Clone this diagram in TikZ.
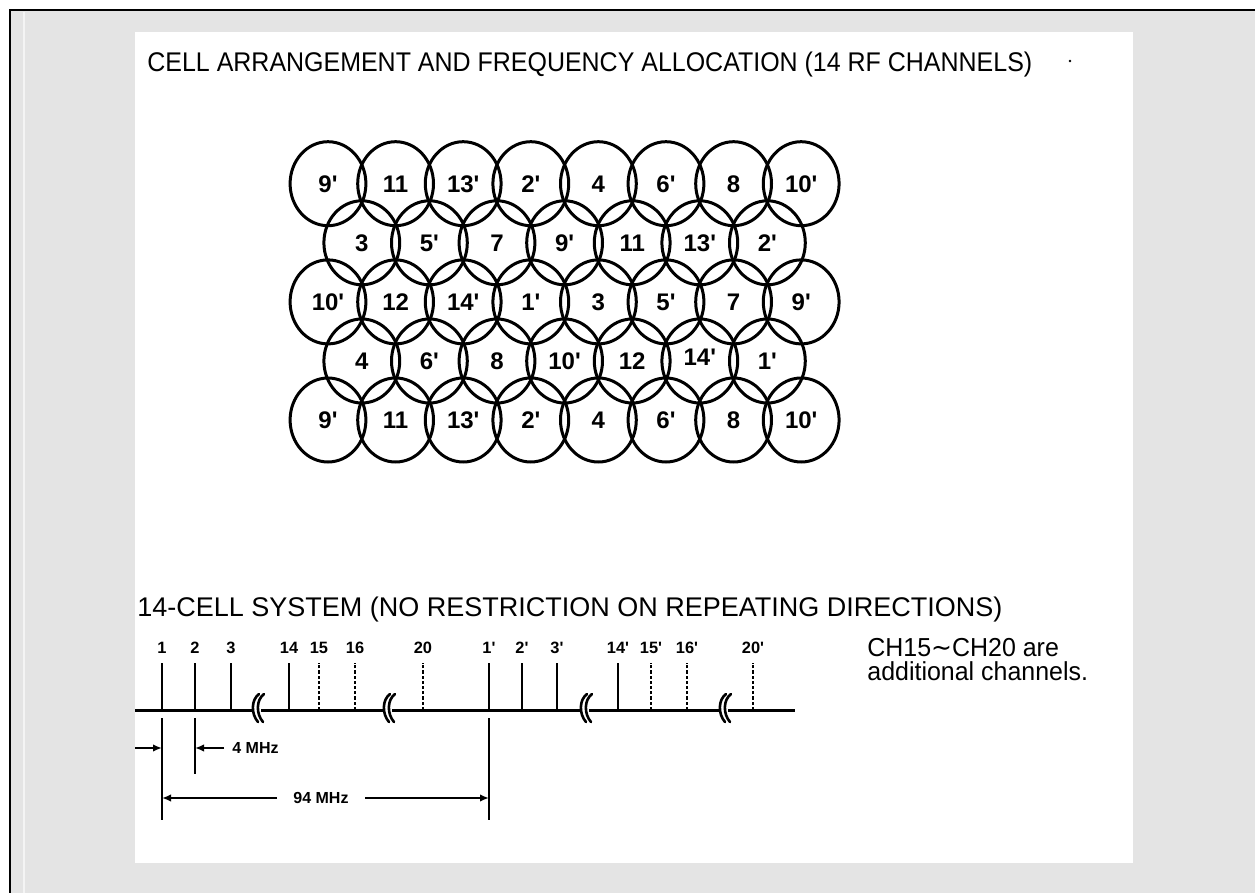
\documentclass[tikz,border=0pt]{standalone}
\usepackage{graphicx}
\usepackage{fontspec}
\setmainfont{Liberation Sans}
\newfontfamily\dejavu{DejaVu Sans}
\usetikzlibrary{shapes.geometric,arrows.meta}
\definecolor{bggray}{HTML}{E4E4E4}
\newcommand\p{\textquotesingle}
\begin{document}
\begin{tikzpicture}[x=0.5pt,y=-0.5pt,
  cell/.style={ellipse,draw,line width=1.5pt,minimum width=37.9pt,minimum height=42pt,inner sep=0pt,
    text height=8.6pt,text depth=0pt,font=\fontsize{12}{14}\selectfont\bfseries},
  titletext/.style={anchor=base west,inner sep=0pt,font=\fontsize{13.5}{16}\selectfont},
  sidetext/.style={anchor=base west,inner sep=0pt,font=\fontsize{13}{15}\selectfont},
  tlab/.style={inner sep=0pt,text height=6pt,text depth=0pt,font=\fontsize{8.2}{10}\selectfont\bfseries},
  dimlab/.style={inner sep=0pt,font=\fontsize{8}{9}\selectfont\bfseries},
  axisline/.style={line width=1.5pt},
  solidtick/.style={line width=1.3pt},
  dashtick/.style={line width=1.3pt,dash pattern=on 1.6pt off 1pt},
  extline/.style={line width=1pt},
  dimline/.style={line width=1pt,-{Latex[length=4.5pt,width=3.8pt]}},
  brk/.style={line width=1.3pt,line cap=round},
]
\useasboundingbox (0,0) rectangle (1255,893);
% background frame
\fill[bggray] (10,10) rectangle (1255,893);
\draw[white!60!bggray,line width=0.6pt] (24,12) -- (24,893);
\draw[line width=1.3pt] (10,893) -- (10,10) -- (1255,10);
\fill[white] (135,32) rectangle (1133,863);

% titles
\node[titletext] (title1) at (147,72) {\scalebox{0.925}[1]{CELL ARRANGEMENT AND FREQUENCY ALLOCATION (14 RF CHANNELS)}};
\fill (1070,61) circle (1.3);
\node[titletext] (title2) at (137,617) {14-CELL SYSTEM (NO RESTRICTION ON REPEATING DIRECTIONS)};

% cells
\foreach \lab [count=\k from 0] in {9\p,11,13\p,2\p,4,6\p,8,10\p}
  \node[cell] (ra\k) at ({328+67.6*\k},183.7) {\lab};
\foreach \lab [count=\k from 0] in {3,5\p,7,9\p,11,13\p,2\p}
  \node[cell] (rb\k) at ({361.8+67.6*\k},242.8) {\lab};
\foreach \lab [count=\k from 0] in {10\p,12,14\p,1\p,3,5\p,7,9\p}
  \node[cell] (rc\k) at ({328+67.6*\k},301.9) {\lab};
\foreach \lab/\dy [count=\k from 0] in {4/0,6\p/0,8/0,10\p/0,12/0,14\p/1.8,1\p/0}
  \node[cell] (rd\k) at ({361.8+67.6*\k},361) {\raisebox{\dy pt}{\lab}};
\foreach \lab [count=\k from 0] in {9\p,11,13\p,2\p,4,6\p,8,10\p}
  \node[cell] (re\k) at ({328+67.6*\k},420) {\lab};

% frequency axis
\coordinate (axL) at (135,710);
\coordinate (axR) at (795,710);
\draw[axisline] (axL) -- (axR);

\foreach \x/\l/\n in {162/1/a1,195/2/a2,231/3/a3,289/14/a14,489/1\p/b1,522/2\p/b2,557/3\p/b3,618/14\p/b14}{
  \coordinate (\n b) at (\x,710);
  \coordinate (\n t) at (\x,663);
  \draw[solidtick] (\n b) -- (\n t);
  \node[tlab] (\n l) at (\x,647.5) {\l};
}
\foreach \x/\l/\n in {319/15/a15,355/16/a16,423/20/a20,651/15\p/b15,687/16\p/b16,753/20\p/b20}{
  \coordinate (\n b) at (\x,710);
  \coordinate (\n t) at (\x,663);
  \draw[dashtick] (\n b) -- (\n t);
  \node[tlab] (\n l) at (\x,647.5) {\l};
}

% breaks
\foreach \x in {257,388,585,724}{
  \fill[white] (\x-3,705) rectangle (\x+4,715);
  \draw[brk] (\x+2,694) .. controls (\x-6,700) and (\x-6,714) .. (\x+1,722);
  \draw[brk] (\x+7,694) .. controls (\x-1,700) and (\x-1,714) .. (\x+6,722);
}

% dimension lines
\coordinate (e1a) at (162,718); \coordinate (e1b) at (162,820);
\coordinate (e2a) at (195,718); \coordinate (e2b) at (195,774);
\coordinate (e3a) at (489,718); \coordinate (e3b) at (489,820);
\draw[extline] (e1a) -- (e1b);
\draw[extline] (e2a) -- (e2b);
\draw[extline] (e3a) -- (e3b);

\coordinate (d4L) at (135,748); \coordinate (d4a) at (162,748);
\coordinate (d4R) at (224,748); \coordinate (d4b) at (195,748);
\draw[dimline] (d4L) -- (d4a);
\draw[dimline] (d4R) -- (d4b);
\node[dimlab,anchor=west] (mhz4) at (232,748) {4 MHz};

\node[dimlab] (mhz94) at (321,798) {94 MHz};
\coordinate (d94a) at (162,798);
\coordinate (d94b) at (489,798);
\draw[dimline] (277,798) -- (d94a);
\draw[dimline] (365,798) -- (d94b);

% side note
\node[sidetext] (note1) at (867,656) {\scalebox{0.96}[1]{CH15{\dejavu ∼}CH20 are}};
\node[sidetext] (note2) at (867,680.5) {\scalebox{0.96}[1]{additional channels.}};
\end{tikzpicture}
\end{document}
